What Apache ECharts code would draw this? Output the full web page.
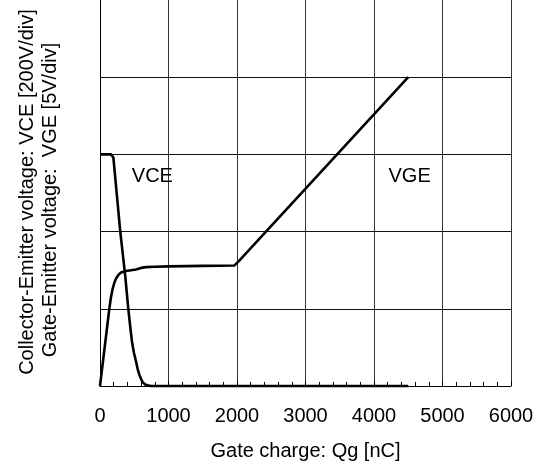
<!DOCTYPE html>
<html><head><meta charset="utf-8">
<script src="https://cdn.jsdelivr.net/npm/echarts@6/dist/echarts.min.js"></script>
<style>html,body{margin:0;padding:0;background:#fff}#c{width:538px;height:466px}</style>
</head><body><div id="c"></div>
<script>
// Gate charge (nC) and voltages
const qgVCE = [0,160,180,195,210,233,296,340,369,413,440,466,495,525,550,573,600,622,660,695,743,4500];
const vceV  = [600,600,598,592,564,520,400,330,284,200,156,116,86,64,44,30,18,10,4,2,0,0];
const qgVGE = [0,136,160,185,210,233,270,306,379,525,600,670,806,1000,1500,1960,2030,4500];
const vgeV  = [0,5.0,5.75,6.3,6.7,6.95,7.2,7.35,7.45,7.55,7.65,7.7,7.72,7.75,7.78,7.8,8.1,20];
const labelVCE = [765, 544];
const labelVGE = [4520, 13.6];
const xTitle = 'Gate charge: Qg [nC]';
const yTitle1 = 'Collector-Emitter voltage: VCE [200V/div]';
const yTitle2 = 'Gate-Emitter voltage:  VGE [5V/div]';

const FONT = "'Liberation Sans', Arial, Helvetica, sans-serif";
const FS = 20;
const pairs = (xs, ys) => xs.map((x, i) => [x, ys[i]]);
const plainLabel = {show: true, position: 'inside', fontSize: FS, color: '#000', fontFamily: FONT,
                    opacity: 1, textBorderWidth: 0, textBorderColor: 'transparent', textShadowBlur: 0};

const chart = echarts.init(document.getElementById('c'), null, {renderer: 'canvas'});
chart.setOption({
  animation: false,
  backgroundColor: '#fff',
  textStyle: {fontFamily: FONT, color: '#000'},
  grid: {left: 100, right: 27, top: 0, bottom: 78, containLabel: false},
  xAxis: {
    type: 'value', min: 0, max: 6000, interval: 1000,
    axisLine: {show: true, lineStyle: {color: '#000', width: 1}},
    axisTick: {show: true, inside: true, length: 5, lineStyle: {color: '#000'}},
    minorTick: {show: true, splitNumber: 5, length: 4, lineStyle: {color: '#000'}},
    axisLabel: {fontSize: FS, color: '#000', margin: 20, fontFamily: FONT,
                formatter: v => String(v)},
    splitLine: {show: true, showMinLine: false, lineStyle: {color: '#333', width: 1}},
    name: xTitle, nameLocation: 'middle', nameGap: 55,
    nameTextStyle: {fontSize: FS, color: '#000', fontFamily: FONT}
  },
  yAxis: [{
    type: 'value', min: 0, max: 1000, interval: 200,
    axisLine: {show: true, lineStyle: {color: '#000', width: 1}},
    axisTick: {show: false}, axisLabel: {show: false},
    splitLine: {show: true, showMinLine: false, showMaxLine: false, lineStyle: {color: '#111', width: 1}}
  }, {
    type: 'value', min: 0, max: 25, interval: 5, show: false,
    splitLine: {show: false}
  }],
  graphic: [
    {type: 'text', x: 27, y: 192, rotation: Math.PI / 2,
     style: {text: yTitle1, fontSize: FS, fontFamily: FONT, fill: '#000', align: 'center', verticalAlign: 'middle'}},
    {type: 'text', x: 50, y: 200, rotation: Math.PI / 2,
     style: {text: yTitle2, fontSize: FS, fontFamily: FONT, fill: '#000', align: 'center', verticalAlign: 'middle'}}
  ],
  series: [
    {type: 'line', name: 'VCE', yAxisIndex: 0, data: pairs(qgVCE, vceV), showSymbol: false, symbol: 'none',
     lineStyle: {color: '#000', width: 2.6}, clip: false},
    {type: 'line', name: 'VGE', yAxisIndex: 1, data: pairs(qgVGE, vgeV), showSymbol: false, symbol: 'none',
     lineStyle: {color: '#000', width: 2.6}, clip: false},
    {type: 'scatter', yAxisIndex: 0, symbolSize: 0, data: [labelVCE], itemStyle: {color: '#000', opacity: 1},
     label: Object.assign({formatter: 'VCE'}, plainLabel)},
    {type: 'scatter', yAxisIndex: 1, symbolSize: 0, data: [labelVGE], itemStyle: {color: '#000', opacity: 1},
     label: Object.assign({formatter: 'VGE'}, plainLabel)}
  ]
});
</script></body></html>
